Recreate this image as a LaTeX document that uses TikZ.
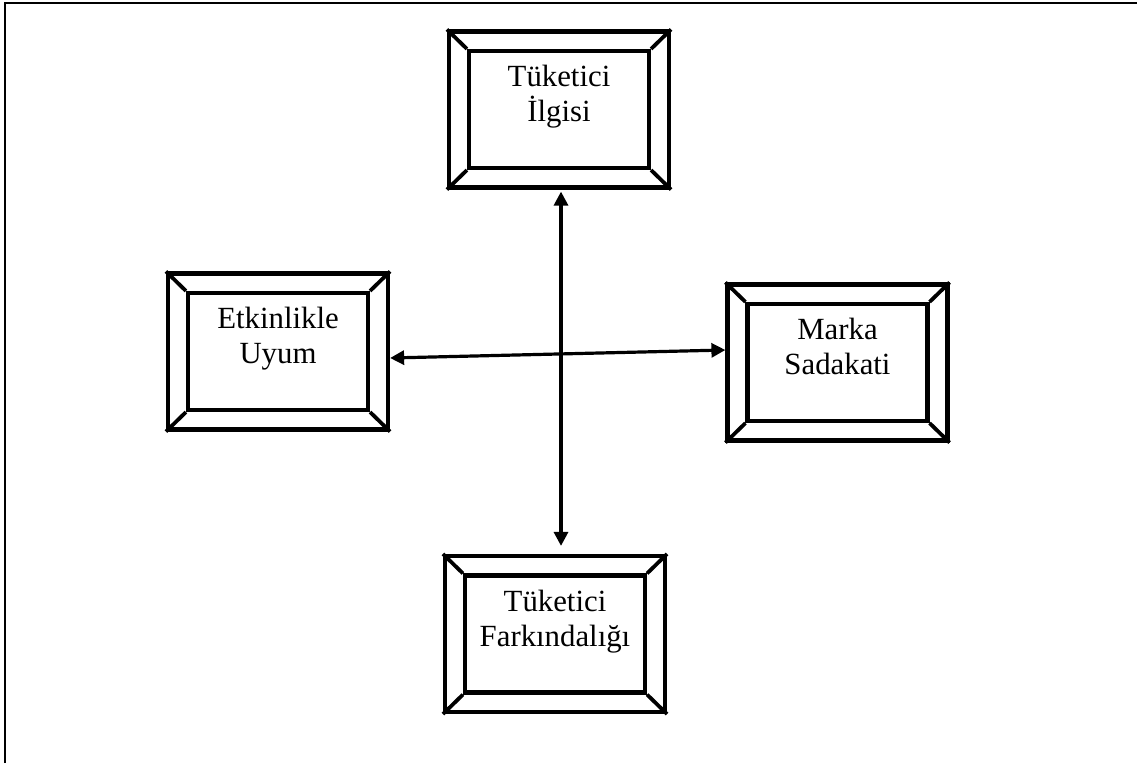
\documentclass[tikz,border=0pt]{standalone}
\usepackage{fontspec}
\setmainfont{Liberation Serif}
\usetikzlibrary{arrows.meta,calc}

\tikzset{
  panelout/.style={draw, line width=4.2pt, rectangle, inner sep=0pt,
                   minimum width=220pt, minimum height=156pt},
  panelin/.style={draw, line width=4.2pt, rectangle, inner sep=0pt,
                  minimum width=180pt, minimum height=117pt},
  bevel/.style={line width=3.8pt},
  paneltext/.style={anchor=north, align=center, inner sep=0pt,
                    font=\fontsize{30.8pt}{35pt}\selectfont},
  link/.style={line width=3.2pt, {Triangle[length=14pt,width=14pt]}-{Triangle[length=14pt,width=14pt]}},
  frameline/.style={line width=2.8pt}
}

% bevelled panel: name, centre x, centre y, text
\newcommand{\bevelpanel}[4]{%
  \node[panelout] (#1) at (#2,#3) {};
  \node[panelin] (#1-in) at (#1.center) {};
  \draw[bevel] (#1.north west) -- (#1-in.north west)
               (#1.north east) -- (#1-in.north east)
               (#1.south west) -- (#1-in.south west)
               (#1.south east) -- (#1-in.south east);
  \node[paneltext] (#1-t) at ($(#1.north)+(0,36)$) {#4};
}

\begin{document}
\begin{tikzpicture}[x=1pt,y=-1pt]
  \useasboundingbox (0,0) rectangle (1137,763);

  % open frame: left and top sides only
  \coordinate (fbl) at (5,763);
  \coordinate (ftl) at (5,3);
  \coordinate (ftr) at (1137,3);
  \draw[frameline] (fbl) -- (ftl) -- (ftr);

  \bevelpanel{ilgi}{559}{109.5}{Tüketici\\İlgisi}
  \bevelpanel{uyum}{278}{351.5}{Etkinlikle\\Uyum}
  \bevelpanel{sadakat}{837.5}{362.5}{Marka\\Sadakati}
  \bevelpanel{farkin}{555}{634}{Tüketici\\Farkındalığı}

  \draw[link] ($(ilgi.south)+(2,2)$) -- ($(farkin.north)+(6,-8)$);
  \draw[link] ($(uyum.east)+(0,6.5)$) -- ($(sadakat.west)+(0,-12.5)$);
\end{tikzpicture}
\end{document}
